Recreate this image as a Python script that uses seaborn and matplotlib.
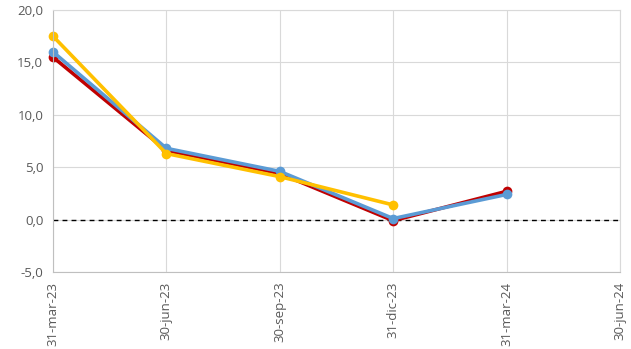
import matplotlib
matplotlib.use("Agg")
import matplotlib.pyplot as plt
import seaborn as sns
import pandas as pd

dates = ["31-mar-23", "30-jun-23", "30-sep-23", "31-dic-23", "31-mar-24", "30-jun-24"]
red_vals = [15.5, 6.6, 4.4, -0.1, 2.7]
blue_vals = [16.0, 6.8, 4.6, 0.1, 2.4]
yellow_vals = [17.5, 6.3, 4.1, 1.4]

series = [
    ("red", red_vals, "#C00000"),
    ("blue", blue_vals, "#5B9BD5"),
    ("yellow", yellow_vals, "#FFC000"),
]

sns.set_style("white")
plt.rcParams["font.family"] = ["Open Sans", "DejaVu Sans"]

fig = plt.figure(figsize=(6.31, 3.49), dpi=100)
ax = fig.add_axes([53 / 631, 1 - 272 / 349, (620 - 53) / 631, (272 - 10) / 349])

for name, vals, color in series:
    df = pd.DataFrame({"x": range(len(vals)), "y": vals})
    sns.lineplot(data=df, x="x", y="y", ax=ax, color=color, linewidth=2.6,
                 marker="o", markersize=7, markeredgewidth=0, legend=False)
for line in ax.lines:
    line.set_clip_on(False)

ax.axhline(0, color="black", linestyle=(0, (3.5, 3)), linewidth=1, zorder=1)

ax.set_xlim(0, len(dates) - 1)
ax.set_ylim(-5, 20)
ax.set_xticks(range(len(dates)))
ax.set_xticklabels(dates, rotation=90, fontsize=9.5, color="#595959")
yt = [-5, 0, 5, 10, 15, 20]
ax.set_yticks(yt)
ax.set_yticklabels([f"{v:.1f}".replace(".", ",") for v in yt], fontsize=9.5, color="#595959")
ax.set_xlabel("")
ax.set_ylabel("")
ax.grid(True, color="#D9D9D9", linewidth=0.8)
ax.set_axisbelow(True)
for side in ["left", "bottom"]:
    ax.spines[side].set_color("#BFBFBF")
for side in ["top", "right"]:
    ax.spines[side].set_color("#D9D9D9")
ax.tick_params(axis="both", length=0, pad=7)

fig.savefig("out.png", dpi=100)
